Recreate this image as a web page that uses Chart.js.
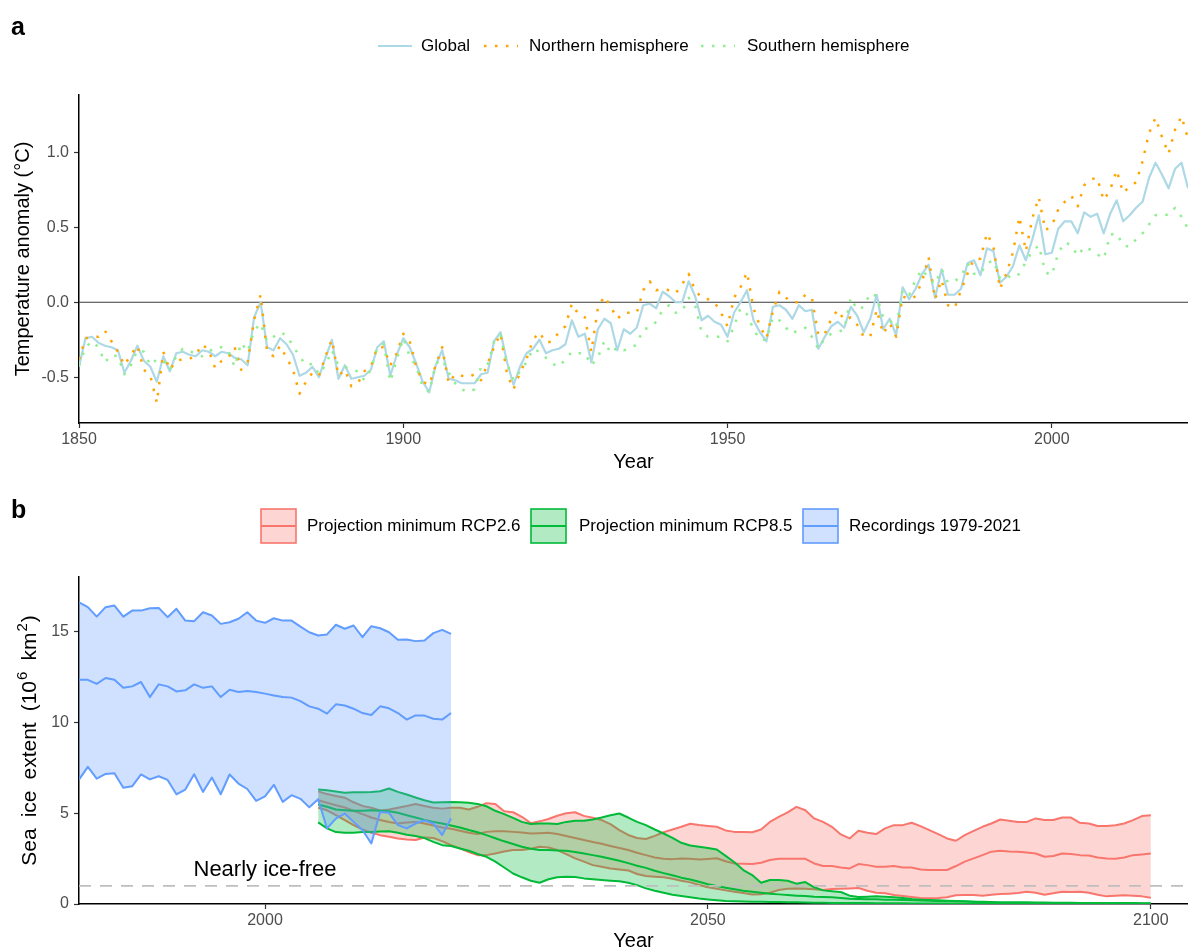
<!DOCTYPE html>
<html>
<head>
<meta charset="utf-8">
<title>Temperature anomaly and Arctic sea ice extent</title>
<script src="https://cdn.jsdelivr.net/npm/chart.js@4.4.1/dist/chart.umd.min.js"></script>
<style>
  html, body { margin: 0; padding: 0; background: #ffffff; }
  #wrap { position: relative; width: 1188px; height: 952px; overflow: hidden; background: #ffffff; }
  canvas { position: absolute; left: 0; }
  #tempChart { top: 0; }
  #iceChart { top: 476px; }
</style>
</head>
<body>
<div id="wrap">
  <canvas id="tempChart" width="1188" height="476" style="width:1188px;height:476px"></canvas>
  <canvas id="iceChart" width="1188" height="476" style="width:1188px;height:476px"></canvas>
</div>
<script>
// ---------- Panel a: annual temperature anomaly (°C), 1850-2021 ----------
const tempYearStart = 1850;
const globalAnomaly = [
  -0.43,-0.24,-0.23,-0.27,-0.29,-0.30,-0.32,-0.47,-0.39,-0.29,
  -0.39,-0.43,-0.53,-0.36,-0.46,-0.34,-0.33,-0.35,-0.36,-0.32,
  -0.33,-0.36,-0.33,-0.34,-0.37,-0.38,-0.42,-0.10, 0.00,-0.30,
  -0.32,-0.24,-0.28,-0.35,-0.49,-0.47,-0.43,-0.50,-0.37,-0.25,
  -0.51,-0.42,-0.51,-0.50,-0.49,-0.45,-0.30,-0.26,-0.49,-0.35,
  -0.24,-0.30,-0.41,-0.53,-0.60,-0.42,-0.32,-0.51,-0.52,-0.54,
  -0.54,-0.54,-0.48,-0.47,-0.26,-0.20,-0.40,-0.55,-0.43,-0.34,
  -0.31,-0.25,-0.34,-0.32,-0.31,-0.28,-0.12,-0.23,-0.21,-0.40,
  -0.18,-0.11,-0.14,-0.32,-0.18,-0.21,-0.17,-0.02,-0.01,-0.04,
   0.07, 0.04, 0.00, 0.00, 0.14, 0.04,-0.12,-0.09,-0.13,-0.15,
  -0.23,-0.07, 0.00, 0.08,-0.12,-0.20,-0.26,-0.03,-0.02,-0.05,
  -0.11,-0.02,-0.06,-0.05,-0.31,-0.23,-0.16,-0.13,-0.17,-0.03,
  -0.09,-0.20,-0.11, 0.05,-0.18,-0.11,-0.22, 0.10, 0.02, 0.09,
   0.19, 0.25, 0.03, 0.22, 0.05, 0.05, 0.09, 0.26, 0.28, 0.18,
   0.36, 0.34, 0.13, 0.17, 0.24, 0.38, 0.28, 0.42, 0.58, 0.32,
   0.33, 0.49, 0.54, 0.54, 0.46, 0.60, 0.57, 0.59, 0.46, 0.59,
   0.68, 0.54, 0.58, 0.63, 0.67, 0.83, 0.93, 0.85, 0.76, 0.89,
   0.93, 0.76
];
const northAnomaly = [
  -0.38,-0.24,-0.23,-0.23,-0.19,-0.26,-0.33,-0.42,-0.35,-0.29,
  -0.45,-0.49,-0.67,-0.33,-0.45,-0.39,-0.38,-0.38,-0.35,-0.28,
  -0.32,-0.44,-0.39,-0.37,-0.30,-0.45,-0.40,-0.12, 0.05,-0.33,
  -0.36,-0.29,-0.37,-0.45,-0.61,-0.53,-0.47,-0.49,-0.36,-0.25,
  -0.49,-0.45,-0.56,-0.54,-0.46,-0.43,-0.30,-0.30,-0.42,-0.34,
  -0.21,-0.26,-0.43,-0.53,-0.55,-0.42,-0.30,-0.54,-0.48,-0.49,
  -0.50,-0.48,-0.52,-0.41,-0.30,-0.21,-0.48,-0.58,-0.47,-0.38,
  -0.25,-0.20,-0.27,-0.26,-0.20,-0.16,-0.01,-0.08,-0.10,-0.33,
  -0.04, 0.04,-0.03,-0.11,-0.07,-0.07,-0.07, 0.08, 0.14, 0.08,
   0.09, 0.08, 0.06, 0.12, 0.19, 0.08, 0.03, 0.02, 0.00,-0.07,
  -0.16, 0.03, 0.10, 0.20,-0.04,-0.16,-0.24,-0.06, 0.07, 0.03,
   0.00, 0.00, 0.05, 0.03,-0.22,-0.21,-0.11,-0.05,-0.12,-0.10,
  -0.15,-0.23,-0.23,-0.05,-0.21,-0.14,-0.23, 0.04, 0.02, 0.04,
   0.14, 0.30, 0.02, 0.15,-0.02,-0.04, 0.08, 0.19, 0.29, 0.29,
   0.46, 0.37, 0.09, 0.19, 0.33, 0.57, 0.34, 0.56, 0.70, 0.48,
   0.51, 0.62, 0.67, 0.71, 0.64, 0.78, 0.82, 0.83, 0.68, 0.75,
   0.88, 0.73, 0.77, 0.80, 0.94, 1.13, 1.23, 1.10, 0.99, 1.15,
   1.24, 1.09
];
const southAnomaly = [
  -0.42,-0.30,-0.26,-0.30,-0.40,-0.35,-0.36,-0.48,-0.42,-0.32,
  -0.33,-0.42,-0.38,-0.39,-0.45,-0.36,-0.31,-0.32,-0.35,-0.36,
  -0.33,-0.30,-0.30,-0.32,-0.43,-0.27,-0.33,-0.19,-0.14,-0.26,
  -0.23,-0.20,-0.22,-0.29,-0.36,-0.42,-0.41,-0.48,-0.42,-0.32,
  -0.42,-0.43,-0.45,-0.46,-0.52,-0.45,-0.30,-0.28,-0.53,-0.38,
  -0.24,-0.36,-0.43,-0.56,-0.60,-0.41,-0.38,-0.47,-0.54,-0.58,
  -0.60,-0.58,-0.43,-0.42,-0.26,-0.22,-0.41,-0.52,-0.46,-0.40,
  -0.31,-0.33,-0.37,-0.41,-0.43,-0.38,-0.33,-0.34,-0.34,-0.42,
  -0.37,-0.26,-0.34,-0.30,-0.32,-0.31,-0.28,-0.18,-0.17,-0.13,
  -0.05,-0.02,-0.07,-0.06, 0.03,-0.02,-0.20,-0.23,-0.23,-0.23,
  -0.26,-0.16,-0.04,-0.08,-0.18,-0.25,-0.25,-0.10,-0.12,-0.17,
  -0.21,-0.18,-0.17,-0.23,-0.31,-0.24,-0.21,-0.20,-0.18, 0.03,
  -0.05,-0.03, 0.06, 0.04,-0.10,-0.12,-0.17, 0.08, 0.05, 0.15,
   0.22, 0.16, 0.12, 0.22, 0.13, 0.14, 0.17, 0.26, 0.19, 0.19,
   0.26, 0.28, 0.16, 0.18, 0.16, 0.19, 0.27, 0.34, 0.38, 0.20,
   0.18, 0.33, 0.40, 0.38, 0.31, 0.37, 0.35, 0.32, 0.29, 0.45,
   0.46, 0.38, 0.37, 0.42, 0.46, 0.52, 0.58, 0.59, 0.58, 0.63,
   0.57, 0.49
];
const tempXTicks = [1850, 1900, 1950, 2000];
const tempYTicks = [-0.5, 0.0, 0.5, 1.0];

// ---------- Panel b: Arctic sea ice extent (10^6 km^2) ----------
const recYearStart = 1979;   // satellite recordings 1979-2021
const recMax = [
  16.61,16.34,15.82,16.34,16.43,15.82,16.15,16.15,16.28,16.30,
  15.79,16.25,15.60,15.57,16.06,15.88,15.42,15.51,15.70,16.06,
  15.60,15.48,15.73,15.60,15.60,15.27,14.96,14.78,14.84,15.37,
  15.15,15.33,14.69,15.29,15.18,14.96,14.54,14.56,14.47,14.51,
  14.91,15.09,14.87
];
const recMean = [
  12.34,12.34,12.12,12.44,12.34,11.90,11.98,12.22,11.39,12.09,
  11.98,11.70,11.76,12.09,11.90,11.98,11.39,11.79,11.67,11.72,
  11.67,11.58,11.48,11.39,11.36,11.17,10.88,10.75,10.48,10.99,
  10.93,10.75,10.51,10.40,10.88,10.77,10.51,10.15,10.38,10.37,
  10.20,10.15,10.51
];
const recMin = [
  6.85,7.55,6.90,7.16,7.20,6.40,6.48,7.13,6.86,7.03,
  6.83,6.04,6.30,7.14,6.17,6.96,6.04,7.13,6.63,6.33,
  5.68,5.92,6.56,5.62,5.99,5.79,5.32,5.77,4.16,4.70,
  4.98,4.52,4.07,3.33,5.07,5.02,4.34,4.16,4.43,4.60,
  4.43,3.79,4.71
];
const projYearStart = 2006;  // model projections 2006-2100
const rcp26Max = [
  6.20,6.05,5.95,5.85,5.60,5.40,5.30,5.15,5.20,5.30,
  5.40,5.50,5.40,5.30,5.25,5.30,5.30,5.20,5.35,5.55,
  5.50,5.10,5.05,4.80,4.45,4.55,4.68,4.86,5.00,5.05,
  4.85,4.75,4.62,4.40,4.07,3.80,3.63,3.58,3.75,3.95,
  4.10,4.25,4.42,4.35,4.30,4.25,4.05,3.97,3.97,3.95,
  4.10,4.52,4.80,5.04,5.35,5.16,4.71,4.52,4.25,3.83,
  3.61,4.03,3.92,3.85,4.16,4.34,4.34,4.47,4.29,4.07,
  3.85,3.61,3.48,3.79,4.03,4.25,4.43,4.65,4.58,4.52,
  4.52,4.71,4.62,4.62,4.76,4.76,4.47,4.43,4.29,4.29,
  4.34,4.43,4.62,4.84,4.89
];
const rcp26Mean = [
  5.71,5.57,5.44,5.31,5.13,4.95,4.76,4.62,4.51,4.43,
  4.49,4.52,4.43,4.32,4.21,4.14,4.03,3.92,3.85,3.97,
  4.01,4.01,3.97,3.94,3.88,3.90,3.92,3.85,3.74,3.63,
  3.52,3.41,3.32,3.19,3.08,2.97,2.82,2.69,2.56,2.49,
  2.47,2.51,2.49,2.45,2.48,2.52,2.35,2.23,2.21,2.20,
  2.27,2.42,2.49,2.49,2.49,2.49,2.23,2.09,2.09,2.01,
  1.96,2.20,2.14,2.05,2.05,2.09,2.01,2.01,1.90,1.87,
  1.87,1.87,2.09,2.33,2.51,2.69,2.88,2.93,2.89,2.88,
  2.84,2.78,2.60,2.64,2.78,2.75,2.69,2.67,2.56,2.51,
  2.49,2.56,2.69,2.73,2.78
];
const rcp26Min = [
  5.30,5.16,4.89,4.62,4.34,4.10,3.92,3.79,3.70,3.61,
  3.55,3.52,3.66,3.63,3.46,3.24,3.06,2.86,2.69,2.69,
  2.78,2.89,2.97,2.97,3.04,3.15,3.11,2.97,2.75,2.51,
  2.33,2.14,2.05,1.96,1.90,1.85,1.65,1.54,1.50,1.47,
  1.39,1.28,1.19,1.05,0.92,0.84,0.75,0.68,0.60,0.52,
  0.53,0.62,0.77,0.84,0.86,0.84,0.81,0.77,0.82,0.84,
  0.86,0.88,0.73,0.62,0.59,0.49,0.44,0.38,0.33,0.31,
  0.33,0.37,0.48,0.49,0.49,0.46,0.51,0.55,0.57,0.60,
  0.68,0.62,0.51,0.59,0.68,0.66,0.68,0.62,0.51,0.42,
  0.46,0.48,0.46,0.42,0.35
];
const rcp85Max = [
  6.30,6.26,6.19,6.12,6.15,6.15,6.17,6.21,6.36,6.17,
  6.03,5.86,5.71,5.59,5.60,5.62,5.60,5.57,5.51,5.38,
  5.13,4.95,4.74,4.52,4.40,4.43,4.43,4.40,4.52,4.58,
  4.58,4.65,4.76,4.89,4.98,4.76,4.52,4.34,4.10,3.88,
  3.64,3.37,3.22,3.15,3.08,3.00,2.65,2.30,1.87,1.59,
  1.17,1.32,1.32,1.28,1.12,1.21,0.92,0.75,0.70,0.66,
  0.46,0.38,0.40,0.42,0.40,0.37,0.33,0.27,0.24,0.22,
  0.20,0.18,0.16,0.15,0.13,0.09,0.07,0.06,0.06,0.05,
  0.05,0.05,0.04,0.04,0.04,0.04,0.04,0.03,0.03,0.03,
  0.03,0.03,0.03,0.02,0.02
];
const rcp85Mean = [
  5.48,5.35,5.20,5.16,5.13,5.13,5.16,5.13,5.10,5.02,
  4.89,4.76,4.63,4.52,4.43,4.32,4.21,4.07,3.95,3.79,
  3.62,3.45,3.30,3.15,3.04,2.97,2.97,2.95,2.93,2.86,
  2.78,2.69,2.60,2.49,2.38,2.25,2.11,1.99,1.83,1.70,
  1.58,1.45,1.35,1.22,1.09,0.99,0.90,0.81,0.73,0.68,
  0.62,0.57,0.53,0.49,0.46,0.44,0.40,0.38,0.37,0.33,
  0.29,0.27,0.26,0.26,0.24,0.23,0.22,0.20,0.19,0.18,
  0.17,0.16,0.15,0.14,0.13,0.12,0.11,0.10,0.10,0.09,
  0.09,0.08,0.08,0.07,0.07,0.07,0.06,0.06,0.06,0.06,
  0.05,0.05,0.05,0.04,0.04
];
const rcp85Min = [
  4.49,4.16,3.96,3.92,3.92,3.96,3.97,3.99,4.01,3.92,
  3.81,3.74,3.63,3.42,3.24,3.19,3.06,2.93,2.75,2.60,
  2.33,2.01,1.68,1.47,1.28,1.17,1.36,1.47,1.50,1.48,
  1.41,1.36,1.32,1.28,1.25,1.17,1.04,0.86,0.73,0.62,
  0.51,0.44,0.37,0.30,0.25,0.21,0.17,0.15,0.14,0.13,
  0.12,0.11,0.11,0.10,0.09,0.08,0.07,0.07,0.06,0.06,
  0.05,0.05,0.05,0.04,0.04,0.04,0.04,0.03,0.03,0.03,
  0.03,0.03,0.03,0.02,0.02,0.02,0.02,0.02,0.02,0.02,
  0.02,0.02,0.02,0.02,0.01,0.01,0.01,0.01,0.01,0.01,
  0.01,0.01,0.01,0.01,0.01
];
const iceXTicks = [2000, 2050, 2100];
const iceYTicks = [0, 5, 10, 15];
const iceFreeLevel = 1;
const iceFreeLabel = { year: 2000, extent: 2, text: 'Nearly ice-free' };

// ---------- shared styling ----------
const FONT = "'Liberation Sans', Arial, Helvetica, sans-serif";
Chart.defaults.font.family = FONT;
Chart.defaults.animation = false;

const COL = {
  global: '#ADD8E6', north: '#FFA500', south: '#90EE90',
  rcp26: '#F8766D', rcp26Fill: 'rgba(248,118,109,0.3)',
  rcp85: '#00BA38', rcp85Fill: 'rgba(0,186,56,0.3)',
  rec: '#619CFF', recFill: 'rgba(97,156,255,0.3)'
};

function toPoints(start, values) {
  return values.map((v, i) => ({ x: start + i, y: v }));
}

function linearAxis(o) {
  return {
    type: 'linear',
    min: o.min,
    max: o.max,
    afterFit: o.fit,
    afterBuildTicks: (s) => { s.ticks = o.ticks.map(v => ({ value: v })); },
    grid: { display: true, drawOnChartArea: false, drawTicks: true, tickLength: 5, tickWidth: 1.2, tickColor: '#333333' },
    border: { display: true, color: '#000000', width: 1.5 },
    ticks: { color: '#4D4D4D', font: { size: 16 }, padding: o.pad, maxRotation: 0, autoSkip: false, callback: o.fmt }
  };
}

function lineDataset(label, start, values, color, extra) {
  return Object.assign({
    label, data: toPoints(start, values),
    borderColor: color, borderWidth: 2, pointRadius: 0, pointHoverRadius: 0,
    tension: 0, fill: false, borderJoinStyle: 'round'
  }, extra || {});
}

// ---------- Panel a ----------
const tempLegend = [
  { text: 'Global', color: COL.global, dash: [], x0: 378, tx: 421 },
  { text: 'Northern hemisphere', color: COL.north, dash: [2.5, 8.5], x0: 484, tx: 529 },
  { text: 'Southern hemisphere', color: COL.south, dash: [2.5, 8.5], x0: 701, tx: 747 }
];

const tempDecor = {
  id: 'tempDecor',
  beforeDatasetsDraw(chart) {
    const { ctx, chartArea: a, scales } = chart;
    const py = scales.y.getPixelForValue(0);
    ctx.save();
    ctx.strokeStyle = '#3A3A3A';
    ctx.lineWidth = 1.2;
    ctx.beginPath();
    ctx.moveTo(a.left, py);
    ctx.lineTo(a.right, py);
    ctx.stroke();
    ctx.restore();
  },
  afterDraw(chart) {
    const { ctx, chartArea: a } = chart;
    ctx.save();
    ctx.fillStyle = '#000000';
    ctx.textAlign = 'left';
    ctx.textBaseline = 'alphabetic';
    ctx.font = `bold 25px ${FONT}`;
    ctx.fillText('a', 11, 35);

    // legend
    const ly = 46;
    tempLegend.forEach(item => {
      ctx.save();
      ctx.strokeStyle = item.color;
      ctx.lineWidth = item.dash.length ? 2.5 : 2.2;
      ctx.setLineDash(item.dash);
      ctx.lineCap = 'butt';
      ctx.beginPath();
      ctx.moveTo(item.x0, ly);
      ctx.lineTo(item.x0 + 34, ly);
      ctx.stroke();
      ctx.restore();
      ctx.font = `17px ${FONT}`;
      ctx.textBaseline = 'middle';
      ctx.fillStyle = '#000000';
      ctx.fillText(item.text, item.tx, ly);
    });

    // axis titles
    ctx.font = `20px ${FONT}`;
    ctx.textAlign = 'center';
    ctx.textBaseline = 'alphabetic';
    ctx.fillText('Year', (a.left + a.right) / 2, 468);
    ctx.translate(29, (a.top + a.bottom) / 2);
    ctx.rotate(-Math.PI / 2);
    ctx.fillText('Temperature anomaly (°C)', 0, 0);
    ctx.restore();
  }
};

new Chart(document.getElementById('tempChart'), {
  type: 'line',
  data: {
    datasets: [
      lineDataset('Global', tempYearStart, globalAnomaly, COL.global, { borderWidth: 2.2, order: 3 }),
      lineDataset('Northern hemisphere', tempYearStart, northAnomaly, COL.north,
        { borderWidth: 2.5, borderDash: [2.5, 8.5], borderCapStyle: 'butt', order: 2 }),
      lineDataset('Southern hemisphere', tempYearStart, southAnomaly, COL.south,
        { borderWidth: 2.5, borderDash: [2.5, 8.5], borderCapStyle: 'butt', order: 1 })
    ]
  },
  options: {
    responsive: false,
    maintainAspectRatio: false,
    devicePixelRatio: 1,
    events: [],
    layout: { padding: { left: 0, right: 0, top: 95, bottom: 0 } },
    plugins: { legend: { display: false }, tooltip: { enabled: false } },
    scales: {
      x: linearAxis({ min: 1850, max: 2021, ticks: tempXTicks, pad: 2,
        fit: (s) => { s.height = 53; }, fmt: (v) => String(v) }),
      y: linearAxis({ min: -0.805, max: 1.382, ticks: tempYTicks, pad: 5,
        fit: (s) => { s.width = 79; }, fmt: (v) => v.toFixed(1) })
    }
  },
  plugins: [tempDecor]
});

// ---------- Panel b ----------
const iceLegend = [
  { text: 'Projection minimum RCP2.6', line: COL.rcp26, fill: COL.rcp26Fill, x0: 261, tx: 307 },
  { text: 'Projection minimum RCP8.5', line: COL.rcp85, fill: COL.rcp85Fill, x0: 531, tx: 579 },
  { text: 'Recordings 1979-2021', line: COL.rec, fill: COL.recFill, x0: 803, tx: 849 }
];

function drawIceYTitle(ctx, cx, cy) {
  const big = 21, small = 15, gap = 11;
  const parts = [
    { t: 'Sea', s: big }, { g: gap }, { t: 'ice', s: big }, { g: gap }, { t: 'extent', s: big }, { g: gap },
    { t: '(10', s: big }, { g: 1 }, { t: '6', s: small, up: 9 }, { g: gap },
    { t: 'km', s: big }, { g: 1 }, { t: '2', s: small, up: 9 }, { g: 1 }, { t: ')', s: big }
  ];
  let total = 0;
  parts.forEach(p => {
    if (p.g) { p.w = p.g; }
    else { ctx.font = `${p.s}px ${FONT}`; p.w = ctx.measureText(p.t).width; }
    total += p.w;
  });
  ctx.save();
  ctx.translate(cx, cy);
  ctx.rotate(-Math.PI / 2);
  ctx.fillStyle = '#000000';
  ctx.textAlign = 'left';
  ctx.textBaseline = 'alphabetic';
  let x = -total / 2;
  parts.forEach(p => {
    if (!p.g) {
      ctx.font = `${p.s}px ${FONT}`;
      ctx.fillText(p.t, x, -(p.up || 0));
    }
    x += p.w;
  });
  ctx.restore();
}

const iceDecor = {
  id: 'iceDecor',
  afterDatasetsDraw(chart) {
    const { ctx, chartArea: a, scales } = chart;
    const py = scales.y.getPixelForValue(iceFreeLevel);
    ctx.save();
    ctx.strokeStyle = '#BEBEBE';
    ctx.lineWidth = 1.6;
    ctx.setLineDash([12, 9]);
    ctx.beginPath();
    ctx.moveTo(a.left, py);
    ctx.lineTo(a.right, py);
    ctx.stroke();
    ctx.setLineDash([]);
    ctx.fillStyle = '#000000';
    ctx.font = `22px ${FONT}`;
    ctx.textAlign = 'center';
    ctx.textBaseline = 'alphabetic';
    ctx.fillText(iceFreeLabel.text, scales.x.getPixelForValue(iceFreeLabel.year),
      scales.y.getPixelForValue(iceFreeLabel.extent) + 8);
    ctx.restore();
  },
  afterDraw(chart) {
    const { ctx, chartArea: a } = chart;
    ctx.save();
    ctx.fillStyle = '#000000';
    ctx.textAlign = 'left';
    ctx.textBaseline = 'alphabetic';
    ctx.font = `bold 25px ${FONT}`;
    ctx.fillText('b', 11, 42);

    // legend keys: filled box, outline, line through the middle
    const top = 33, size = 34, mid = top + size / 2;
    iceLegend.forEach(item => {
      ctx.fillStyle = item.fill;
      ctx.fillRect(item.x0, top, 35, size);
      ctx.strokeStyle = item.line;
      ctx.lineWidth = 1.6;
      ctx.strokeRect(item.x0, top, 35, size);
      ctx.lineWidth = 2;
      ctx.beginPath();
      ctx.moveTo(item.x0, mid);
      ctx.lineTo(item.x0 + 35, mid);
      ctx.stroke();
      ctx.fillStyle = '#000000';
      ctx.font = `17px ${FONT}`;
      ctx.textBaseline = 'middle';
      ctx.fillText(item.text, item.tx, mid);
    });

    ctx.font = `20px ${FONT}`;
    ctx.textAlign = 'center';
    ctx.textBaseline = 'alphabetic';
    ctx.fillText('Year', (a.left + a.right) / 2, 471);
    ctx.restore();

    drawIceYTitle(ctx, 36, (a.top + a.bottom) / 2);
  }
};

new Chart(document.getElementById('iceChart'), {
  type: 'line',
  data: {
    datasets: [
      // RCP2.6 ribbon (max filled down to min) and mean
      lineDataset('RCP2.6 max', projYearStart, rcp26Max, COL.rcp26, { fill: 2, backgroundColor: COL.rcp26Fill, order: 9 }),
      lineDataset('RCP2.6 mean', projYearStart, rcp26Mean, COL.rcp26, { order: 8 }),
      lineDataset('RCP2.6 min', projYearStart, rcp26Min, COL.rcp26, { order: 7 }),
      // RCP8.5 ribbon and mean
      lineDataset('RCP8.5 max', projYearStart, rcp85Max, COL.rcp85, { fill: 5, backgroundColor: COL.rcp85Fill, order: 6 }),
      lineDataset('RCP8.5 mean', projYearStart, rcp85Mean, COL.rcp85, { order: 5 }),
      lineDataset('RCP8.5 min', projYearStart, rcp85Min, COL.rcp85, { order: 4 }),
      // recorded annual maximum, mean and minimum
      lineDataset('Recorded max', recYearStart, recMax, COL.rec, { fill: 8, backgroundColor: COL.recFill, order: 3 }),
      lineDataset('Recorded mean', recYearStart, recMean, COL.rec, { order: 2 }),
      lineDataset('Recorded min', recYearStart, recMin, COL.rec, { order: 1 })
    ]
  },
  options: {
    responsive: false,
    maintainAspectRatio: false,
    devicePixelRatio: 1,
    events: [],
    layout: { padding: { left: 0, right: 0, top: 101, bottom: 0 } },
    plugins: { legend: { display: false }, tooltip: { enabled: false }, filler: { propagate: false } },
    scales: {
      x: linearAxis({ min: 1979, max: 2104.2, ticks: iceXTicks, pad: 2,
        fit: (s) => { s.height = 48; }, fmt: (v) => String(v) }),
      y: linearAxis({ min: 0, max: 18, ticks: iceYTicks, pad: 5,
        fit: (s) => { s.width = 79; }, fmt: (v) => String(v) })
    }
  },
  plugins: [iceDecor]
});
</script>
</body>
</html>
